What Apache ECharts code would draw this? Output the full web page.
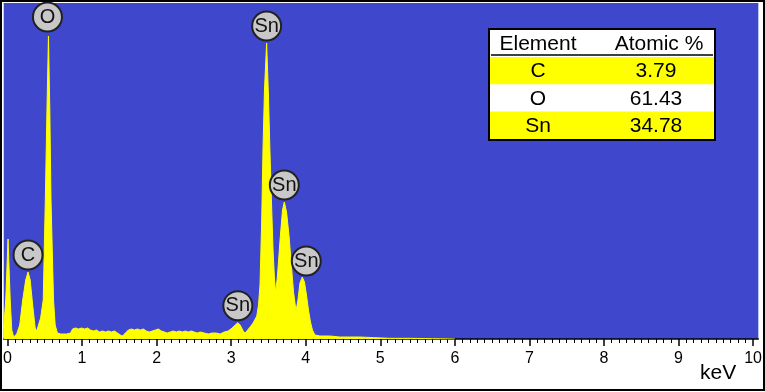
<!DOCTYPE html>
<html>
<head>
<meta charset="utf-8">
<script src="https://cdn.jsdelivr.net/npm/echarts@6/dist/echarts.min.js"></script>
<style>
  html, body { margin: 0; padding: 0; background: #fff; }
  #chart { width: 765px; height: 392px; }
</style>
</head>
<body>
<div id="chart"></div>
<script>
// EDS spectrum (keV, counts)
const spectrumKeV = [
  -0.05, -0.023, 0.008, 0.037, 0.058, 0.084, 0.124, 0.165, 0.205, 0.245, 0.276, 0.305, 0.338, 0.372, 0.392,
  0.405, 0.445, 0.48, 0.508, 0.53, 0.55, 0.568, 0.584, 0.618, 0.64, 0.67,
  0.713, 0.793, 0.847, 0.873, 0.914, 0.954, 0.994, 1.034, 1.074, 1.114, 1.154, 1.194, 1.235, 1.275,
  1.315, 1.355, 1.395, 1.435, 1.475, 1.515, 1.542, 1.582, 1.622, 1.663, 1.703, 1.743, 1.783, 1.823,
  1.863, 1.903, 1.943, 1.984, 2.024, 2.064, 2.104, 2.144, 2.184, 2.224, 2.264, 2.305, 2.345, 2.385,
  2.425, 2.465, 2.505, 2.545, 2.586, 2.639, 2.693, 2.746, 2.8, 2.853, 2.907, 2.96,
  3.014, 3.054, 3.09, 3.121, 3.161, 3.188, 3.214, 3.254, 3.294, 3.344, 3.367, 3.387, 3.41, 3.427, 3.447,
  3.476, 3.5, 3.52, 3.54, 3.562, 3.582, 3.598, 3.622, 3.656, 3.689, 3.713, 3.743, 3.776, 3.81, 3.837,
  3.87, 3.896, 3.923, 3.954, 3.983, 4.01, 4.037, 4.064, 4.09, 4.124, 4.19, 4.324, 4.458, 4.592, 4.726,
  4.927, 5.128, 5.4, 5.7, 6.0
];
const spectrumCounts = [
  33, 117, 300, 117, 27, 6, 15, 42, 117, 177, 201, 177, 102, 33, 24,
  27, 63, 117, 417, 687, 909, 687, 417, 117, 42, 18,
  15, 15, 18, 30, 33, 30, 33, 30, 33, 27, 24, 27, 21, 24,
  21, 24, 21, 24, 18, 12, 9, 18, 27, 30, 27, 30, 27, 30,
  24, 21, 24, 27, 30, 24, 21, 18, 21, 24, 21, 24, 21, 24,
  21, 24, 21, 18, 21, 18, 15, 18, 18, 15, 21, 24,
  33, 42, 49, 42, 24, 18, 24, 36, 48, 69, 102, 162, 357, 567, 747,
  888, 732, 567, 417, 267, 177, 138, 192, 297, 387, 411, 381, 310, 214, 140,
  84, 117, 168, 186, 171, 132, 87, 51, 27, 12, 9, 9, 6, 6, 6,
  4, 2, 2, 1, 0
];

// peak markers
const peakKeV = [0.276, 0.55, 3.09, 3.476, 3.713, 3.954];
const peakCounts = [201, 909, 49, 888, 411, 186];
const peakNames = ['C', 'O', 'Sn', 'Sn', 'Sn', 'Sn'];

// quantification table
const tableHeader = ['Element', 'Atomic %'];
const tableElements = ['C', 'O', 'Sn'];
const tableAtomic = ['3.79', '61.43', '34.78'];

// axis ticks
const majorTicks = [0, 1, 2, 3, 4, 5, 6, 7, 8, 9, 10];
const minorTicks = [];
for (let i = 0; i <= 100; i++) {
  if (i % 10 !== 0) minorTicks.push(i / 10);
}

const font = 'Liberation Sans, Arial, sans-serif';
const blue = '#3F48CC';
const yellow = '#FFFF00';

const myChart = echarts.init(document.getElementById('chart'));

// table built as graphic elements
const tableGraphic = [];
const tX = 489, tY = 29, tW = 226, tH = 111;
const rowTop = 57, rowH = 27.3;
tableGraphic.push({
  type: 'rect', shape: {x: tX, y: tY, width: tW, height: tH},
  style: {fill: '#fff', stroke: '#000', lineWidth: 2}, z: 10
});
tableElements.forEach((el, i) => {
  if (i % 2 === 0) {
    tableGraphic.push({
      type: 'rect', shape: {x: tX + 1, y: rowTop + i * rowH, width: tW - 2, height: rowH},
      style: {fill: yellow}, z: 11
    });
  }
  tableGraphic.push({
    type: 'text', x: 538, y: rowTop + i * rowH + rowH / 2 + 1, z: 12,
    style: {text: el, fill: '#000', font: '21px ' + font, align: 'center', verticalAlign: 'middle'}
  });
  tableGraphic.push({
    type: 'text', x: 656, y: rowTop + i * rowH + rowH / 2 + 1, z: 12,
    style: {text: tableAtomic[i], fill: '#000', font: '21px ' + font, align: 'center', verticalAlign: 'middle'}
  });
});
tableGraphic.push({
  type: 'line', shape: {x1: 491, y1: 55, x2: 713, y2: 55},
  style: {stroke: '#000', lineWidth: 1.5}, z: 12
});
tableGraphic.push({
  type: 'text', x: 538, y: 44, z: 12,
  style: {text: tableHeader[0], fill: '#000', font: '21px ' + font, align: 'center', verticalAlign: 'middle'}
});
tableGraphic.push({
  type: 'text', x: 659, y: 44, z: 12,
  style: {text: tableHeader[1], fill: '#000', font: '21px ' + font, align: 'center', verticalAlign: 'middle'}
});

const option = {
  backgroundColor: '#fff',
  animation: false,
  grid: {
    left: 3, right: 5.5, top: 3, bottom: 53,
    show: true, backgroundColor: blue, borderWidth: 0
  },
  xAxis: [
    {
      type: 'value', min: -0.05, max: 10.07, position: 'bottom',
      axisLine: {show: true, onZero: false, lineStyle: {color: '#000', width: 1.5}},
      axisTick: {show: true, customValues: majorTicks, length: 7, lineStyle: {color: '#000', width: 1.5}},
      axisLabel: {customValues: majorTicks, color: '#000', fontSize: 16, fontFamily: font, margin: 12},
      splitLine: {show: false}
    },
    {
      type: 'value', min: -0.05, max: 10.07, position: 'bottom',
      axisLine: {show: false, onZero: false},
      axisTick: {show: true, customValues: minorTicks, length: 4, lineStyle: {color: '#000', width: 1}},
      axisLabel: {show: false},
      splitLine: {show: false}
    }
  ],
  yAxis: {
    type: 'value', min: 0, max: 1008, show: false, splitLine: {show: false}
  },
  series: [
    {
      name: 'spectrum',
      type: 'line',
      xAxisIndex: 0,
      symbol: 'none',
      smooth: false,
      lineStyle: {color: yellow, width: 1},
      areaStyle: {color: yellow, opacity: 1},
      data: spectrumKeV.map((k, i) => [k, spectrumCounts[i]])
    },
    {
      name: 'peaks',
      type: 'scatter',
      xAxisIndex: 0,
      symbol: 'circle',
      symbolSize: 29,
      symbolOffset: [0, -17],
      itemStyle: {color: '#C8C8C8', borderColor: '#222', borderWidth: 2, opacity: 1},
      label: {
        show: true, position: 'inside',
        formatter: p => p.name, color: '#111', fontSize: 20, fontFamily: font
      },
      z: 5,
      data: peakKeV.map((k, i) => {
        const item = {name: peakNames[i], value: [k, peakCounts[i]]};
        if (i === 5) item.symbolOffset = [4, -16];
        if (i === 1) item.symbolOffset = [-1, -19];
        return item;
      })
    }
  ],
  graphic: [
    {
      type: 'text', x: 700, y: 373, z: 10,
      style: {text: 'keV', fill: '#000', font: '21px ' + font, verticalAlign: 'middle'}
    },
    ...tableGraphic,
    {
      type: 'rect', shape: {x: 1, y: 1, width: 763, height: 389},
      style: {fill: 'none', stroke: '#000', lineWidth: 2}, z: 20
    }
  ]
};

myChart.setOption(option);
</script>
</body>
</html>
